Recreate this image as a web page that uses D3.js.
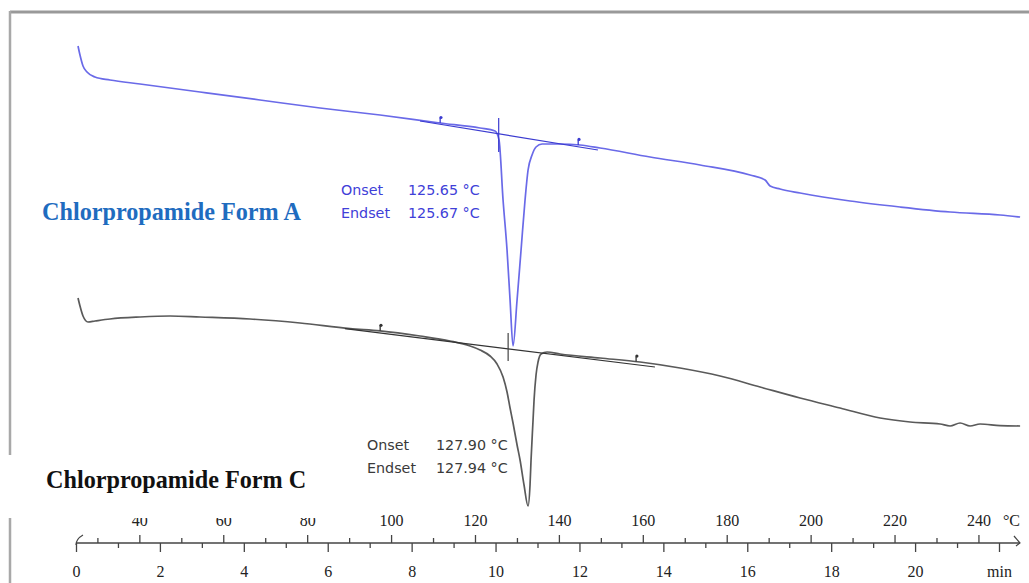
<!DOCTYPE html>
<html>
<head>
<meta charset="utf-8">
<script src="https://cdn.jsdelivr.net/npm/d3@7"></script>
<style>
  html, body { margin: 0; padding: 0; background: #fff; }
  svg { display: block; }
</style>
</head>
<body>
<svg id="chart" width="1029" height="583"></svg>
<script>
// ---- DSC thermogram data (time in min, heat flow in mW) ----
const timeTicks = [0, 2, 4, 6, 8, 10, 12, 14, 16, 18, 20];
const tempTicks = [40, 60, 80, 100, 120, 140, 160, 180, 200, 220, 240];
const startTemp = 24.9;   // °C at t = 0
const heatingRate = 10;   // K/min

// Form A trace
const formATime = [0.048, 0.095, 0.167, 0.262, 0.453, 0.810, 1.526, 2.956, 4.386, 5.816, 7.247, 8.677, 9.631, 9.988,
  10.083, 10.179, 10.274, 10.346, 10.417, 10.513, 10.608, 10.703, 10.775, 10.870, 10.965, 11.108, 11.538, 12.014,
  12.491, 13.683, 14.875, 16.067, 16.425, 16.544, 16.782, 17.259, 18.451, 19.643, 20.834, 22.026, 22.503];
const formAFlow = [-0.30, -0.75, -1.30, -1.60, -1.85, -2.00, -2.20, -2.60, -3.00, -3.40, -3.75, -4.15, -4.40, -4.55,
  -5.00, -8.00, -10.50, -13.00, -15.30, -13.00, -10.50, -8.00, -6.50, -5.75, -5.35, -5.20, -5.20, -5.25,
  -5.40, -5.85, -6.25, -6.75, -7.00, -7.30, -7.45, -7.65, -8.05, -8.35, -8.60, -8.75, -8.85];

// Form C trace
const formCTime = [0.048, 0.095, 0.167, 0.286, 0.453, 0.810, 1.526, 2.241, 2.956, 4.148, 5.340, 6.532, 7.247, 8.200,
  8.915, 9.392, 9.631, 9.869, 10.036, 10.179, 10.274, 10.346, 10.417, 10.513, 10.584, 10.679, 10.775, 10.822,
  10.846, 10.894, 10.918, 10.965, 11.013, 11.085, 11.228, 11.538, 12.491, 13.445, 14.398, 15.352, 16.305,
  17.259, 18.212, 19.166, 19.881, 20.596, 20.834, 21.073, 21.310, 21.549, 22.026, 22.503];
const formCFlow = [-12.90, -13.30, -13.80, -14.10, -14.05, -13.95, -13.85, -13.80, -13.85, -13.95, -14.15, -14.43, -14.54, -14.80,
  -15.05, -15.30, -15.50, -15.80, -16.20, -16.85, -17.60, -18.40, -19.15, -20.25, -21.00, -22.25, -23.30, -22.25,
  -21.00, -19.00, -18.00, -16.75, -16.10, -15.70, -15.60, -15.70, -15.90, -16.10, -16.40, -16.80, -17.35,
  -17.90, -18.40, -18.90, -19.10, -19.20, -19.30, -19.15, -19.30, -19.20, -19.28, -19.30];

// Baseline tangents used for onset evaluation
const tangentATime = [8.20, 12.44];
const tangentAFlow = [-4.05, -5.50];
const tangentCTime = [6.41, 13.80];
const tangentCFlow = [-14.43, -16.35];

// Integration limit markers
const limitsATime = [8.68, 11.97];
const limitsCTime = [7.25, 13.35];

// Onset / endset results
const onsetA = 125.65, endsetA = 125.67;
const onsetC = 127.90, endsetC = 127.94;
const onsetAFlowSpan = [-3.9, -5.6];
const onsetCFlowSpan = [-14.65, -16.05];

const seriesNames = ["Chlorpropamide Form A", "Chlorpropamide Form C"];

// ---- scales ----
const svg = d3.select("#chart");
const x = d3.scaleLinear().domain([0, 22]).range([76, 999]);
const xTemp = d3.scaleLinear()
  .domain([startTemp, startTemp + heatingRate * 22])
  .range(x.range());
const y = d3.scaleLinear().domain([0, -26]).range([40, 560]);
const axisY = 543;

const blue = "#6a6ae8";
const blueDark = "#3b3bd0";
const grey = "#5a5a5a";

// ---- frame ----
svg.append("line").attr("x1", 10).attr("x2", 1029).attr("y1", 12).attr("y2", 12)
  .attr("stroke", "#999").attr("stroke-width", 3.2);
svg.append("line").attr("x1", 10).attr("x2", 10).attr("y1", 11).attr("y2", 583)
  .attr("stroke", "#a8a8a8").attr("stroke-width", 2.5);

// ---- traces ----
const line = d3.line().x(d => x(d[0])).y(d => y(d[1])).curve(d3.curveMonotoneX);
const zip = (a, b) => a.map((v, i) => [v, b[i]]);

function interp(times, flows, t) {
  for (let i = 1; i < times.length; i++) {
    if (t <= times[i]) {
      const f = (t - times[i - 1]) / (times[i] - times[i - 1]);
      return flows[i - 1] + f * (flows[i] - flows[i - 1]);
    }
  }
  return flows[flows.length - 1];
}

function drawTrace(times, flows, color) {
  svg.append("path").datum(zip(times, flows))
    .attr("d", line).attr("fill", "none")
    .attr("stroke", color).attr("stroke-width", 1.7)
    .attr("stroke-linejoin", "round");
}

function drawTangent(times, flows, color) {
  svg.append("path").datum(zip(times, flows))
    .attr("d", d3.line().x(d => x(d[0])).y(d => y(d[1])))
    .attr("stroke", color).attr("stroke-width", 1.2).attr("fill", "none");
}

function drawLimits(times, trT, trF, color) {
  times.forEach(t => {
    const px = x(t), py = y(interp(trT, trF, t));
    svg.append("line").attr("x1", px).attr("x2", px).attr("y1", py).attr("y2", py - 5)
      .attr("stroke", color).attr("stroke-width", 1.3);
    svg.append("circle").attr("cx", px + 0.8).attr("cy", py - 5.5).attr("r", 1.6).attr("fill", color);
  });
}

function drawOnset(temp, span, color) {
  const px = xTemp(temp);
  svg.append("line").attr("x1", px).attr("x2", px)
    .attr("y1", y(span[0])).attr("y2", y(span[1]))
    .attr("stroke", color).attr("stroke-width", 1.2);
}

drawTrace(formCTime, formCFlow, grey);
drawTangent(tangentCTime, tangentCFlow, "#333");
drawLimits(limitsCTime, formCTime, formCFlow, "#333");
drawOnset(onsetC, onsetCFlowSpan, "#444");

drawTrace(formATime, formAFlow, blue);
drawTangent(tangentATime, tangentAFlow, blueDark);
drawLimits(limitsATime, formATime, formAFlow, blueDark);
drawOnset(onsetA, onsetAFlowSpan, blueDark);

// ---- evaluation results ----
const annFont = "'DejaVu Sans', Verdana, sans-serif";
function results(x0, x1, yTop, on, end, color) {
  const g = svg.append("g").attr("fill", color)
    .style("font-family", annFont).style("font-size", "14.3px");
  g.append("text").attr("x", x0).attr("y", yTop).text("Onset");
  g.append("text").attr("x", x1).attr("y", yTop).text(on.toFixed(2) + " °C");
  g.append("text").attr("x", x0).attr("y", yTop + 23).text("Endset");
  g.append("text").attr("x", x1).attr("y", yTop + 23).text(end.toFixed(2) + " °C");
}
results(341, 408, 195, onsetA, endsetA, "#4040d8");
results(367, 436, 450, onsetC, endsetC, "#3a3a3a");

// ---- axes ----
const axisFont = "'Liberation Serif', 'Times New Roman', serif";

const timeAxis = d3.axisBottom(x)
  .tickValues(d3.range(0, 23, 1))
  .tickFormat(d => d === 22 ? "min" : (timeTicks.includes(d) ? d : ""));
const gTime = svg.append("g").attr("transform", `translate(0,${axisY})`).call(timeAxis);
gTime.select(".domain").remove();
gTime.selectAll(".tick line").attr("y2", d => d % 2 === 0 ? 9 : 5)
  .attr("stroke", "#444").attr("stroke-width", 1.3);
gTime.selectAll(".tick text").attr("y", 28).attr("dy", "0.35em")
  .attr("fill", "#222").style("font-family", axisFont).style("font-size", "16px");

const tempAxis = d3.axisTop(xTemp)
  .tickValues(d3.range(30, 250, 10))
  .tickFormat(d => tempTicks.includes(d) ? d : "");
const gTemp = svg.append("g").attr("transform", `translate(0,${axisY})`).call(tempAxis);
gTemp.select(".domain").remove();
gTemp.selectAll(".tick line").attr("y2", d => d % 20 === 0 ? -8 : -5)
  .attr("stroke", "#444").attr("stroke-width", 1.3);
gTemp.selectAll(".tick text").attr("y", -23).attr("dy", "0.35em")
  .attr("fill", "#222").style("font-family", axisFont).style("font-size", "16px");

// axis line with start hook and arrow head
const xEnd = x(22.5);
svg.append("line").attr("x1", x(0)).attr("x2", xEnd).attr("y1", axisY).attr("y2", axisY)
  .attr("stroke", "#444").attr("stroke-width", 1.3);
svg.append("path").attr("d", `M${x(0)},${axisY + 2} Q${x(0)},${axisY - 4} ${x(0) + 7},${axisY - 8}`)
  .attr("fill", "none").attr("stroke", "#444").attr("stroke-width", 1.2);
svg.append("path").attr("d", `M${xEnd - 6},${axisY - 7} L${xEnd},${axisY} L${xEnd - 4},${axisY + 3}`)
  .attr("fill", "none").attr("stroke", "#444").attr("stroke-width", 1.2);
svg.append("text").attr("x", xEnd - 17).attr("y", axisY - 23).attr("dy", "0.35em")
  .attr("fill", "#222").style("font-family", axisFont).style("font-size", "16px").text("°C");

// ---- series labels ----
svg.append("rect").attr("x", 0).attr("y", 455).attr("width", 330).attr("height", 63).attr("fill", "#fff");
svg.append("text").attr("x", 42).attr("y", 220).text(seriesNames[0])
  .attr("fill", "#1f6cbf").style("font-family", axisFont).style("font-weight", "bold").style("font-size", "24.2px");
svg.append("text").attr("x", 46).attr("y", 488).text(seriesNames[1])
  .attr("fill", "#111").style("font-family", axisFont).style("font-weight", "bold").style("font-size", "24.2px");
</script>
</body>
</html>
